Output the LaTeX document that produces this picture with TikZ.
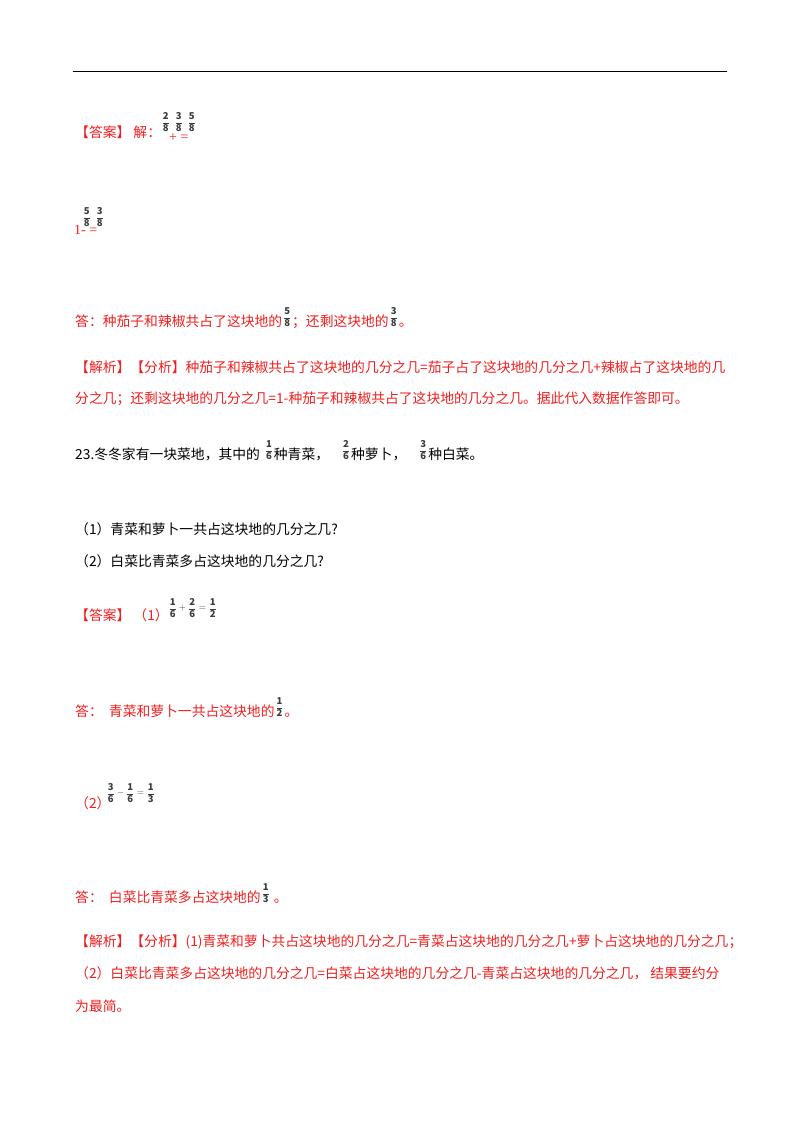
\documentclass[tikz,border=0pt]{standalone}
\usepackage{fontspec}
\setmainfont{Noto Sans CJK SC}
\newfontfamily\numf{Liberation Serif}
\definecolor{ansred}{RGB}{240,30,30}
\definecolor{fracc}{RGB}{60,60,60}
\newcommand{\fr}[2]{$\displaystyle\frac{\mathbf{#1}}{\mathbf{#2}}$}
\begin{document}
\begin{tikzpicture}[x=1pt,y=-1pt,
  txt/.style={anchor=base west,inner sep=0pt,font=\fontsize{13.8}{16}\selectfont},
  red/.style={txt,text=ansred},
  blk/.style={txt,text=black},
  fr/.style={anchor=south west,inner sep=0.5pt,text=fracc,font=\fontsize{9.5}{11}\selectfont\bfseries}]
\useasboundingbox (0,0) rectangle (800,1132);
\draw[line width=0.8pt] (73,71) -- (727,71);
% block 1
\node[red] (a1) at (75,137) {【答案】 解：};
\node[fr] (f1) at (161,132) {\fr28};
\node[fr] (f2) at (174,132) {\fr38};
\node[fr] (f3) at (187,132) {\fr58};
\node[red,font=\numf\fontsize{14}{16}\selectfont] (a2) at (169,141) {+ =};
\node[red,font=\numf\fontsize{14}{16}\selectfont] (b1) at (74,234) {1- =};
\node[fr] (f4) at (82,227) {\fr58};
\node[fr] (f5) at (95,227) {\fr38};
\node[red] (c1) at (75,326) {答：种茄子和辣椒共占了这块地的};
\node[fr] (c2) at ([yshift=-1pt]c1.base east) {\fr58};
\node[red] (c3) at (c2.south east|-c1.base) {；还剩这块地的};
\node[fr] (c4) at ([yshift=-1pt]c3.base east) {\fr38};
\node[red] (c5) at (c4.south east|-c1.base) {。};
\node[red] (d1) at (75,372) {【解析】【分析】种茄子和辣椒共占了这块地的几分之几=茄子占了这块地的几分之几+辣椒占了这块地的几};
\node[red] (d2) at (75,403) {分之几；还剩这块地的几分之几=1-种茄子和辣椒共占了这块地的几分之几。据此代入数据作答即可。};
% question 23
\node[blk] (q1) at (75,459) {23.冬冬家有一块菜地，其中的};
\node[fr] (q2) at ([xshift=4pt,yshift=-1pt]q1.base east) {\fr16};
\node[blk] (q3) at (q2.south east|-q1.base) {种青菜，};
\node[fr] (q4) at ([xshift=12pt,yshift=-1pt]q3.base east) {\fr26};
\node[blk] (q5) at (q4.south east|-q1.base) {种萝卜，};
\node[fr] (q6) at ([xshift=12pt,yshift=-1pt]q5.base east) {\fr36};
\node[blk] (q7) at (q6.south east|-q1.base) {种白菜。};
\node[blk] (p1) at (75,534) {（1）青菜和萝卜一共占这块地的几分之几?};
\node[blk] (p2) at (75,566) {（2）白菜比青菜多占这块地的几分之几?};
% answer
\node[red] (e1) at (75,620) {【答案】 （1）};
\node[fr] (e2) at (168,618) {$\displaystyle\frac{\mathbf 1}{\mathbf 6}+\frac{\mathbf 2}{\mathbf 6}=\frac{\mathbf 1}{\mathbf 2}$};
\node[red] (g1) at (75,716) {答：\ \ 青菜和萝卜一共占这块地的};
\node[fr] (g2) at ([yshift=-1pt]g1.base east) {\fr12};
\node[red] (g3) at (g2.south east|-g1.base) {。};
\node[red] (h1) at (75,808) {（2）};
\node[fr] (h2) at (106,803) {$\displaystyle\frac{\mathbf 3}{\mathbf 6}-\frac{\mathbf 1}{\mathbf 6}=\frac{\mathbf 1}{\mathbf 3}$};
\node[red] (k1) at (75,902) {答：\ \ 白菜比青菜多占这块地的};
\node[fr] (k2) at ([yshift=-1pt]k1.base east) {\fr13};
\node[red] (k3) at (k2.south east|-k1.base) {\ 。};
\node[red] (m1) at (75,946) {【解析】【分析】(1)青菜和萝卜共占这块地的几分之几=青菜占这块地的几分之几+萝卜占这块地的几分之几；};
\node[red] (m2) at (75,978) {（2）白菜比青菜多占这块地的几分之几=白菜占这块地的几分之几-青菜占这块地的几分之几， 结果要约分};
\node[red] (m3) at (75,1011) {为最简。};
\end{tikzpicture}
\end{document}
